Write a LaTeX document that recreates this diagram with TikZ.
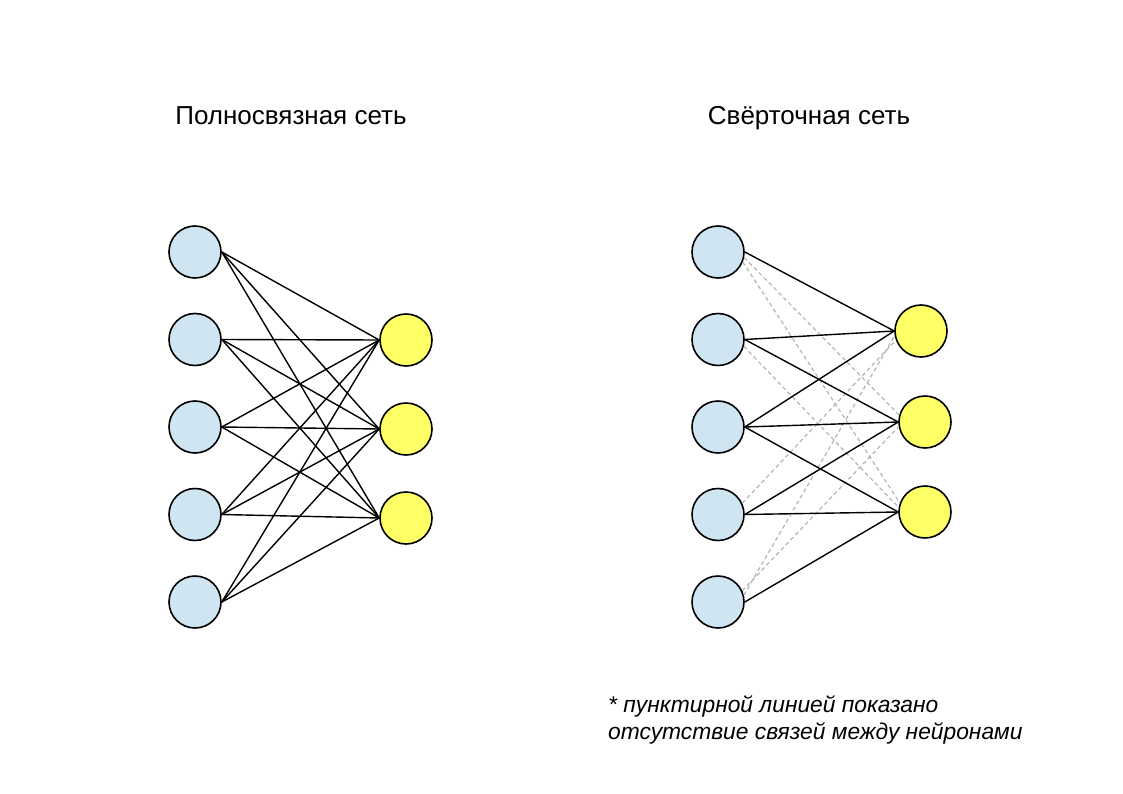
\documentclass[tikz,border=0pt]{standalone}
\usepackage{fontspec}
\setmainfont{Liberation Sans}
\usetikzlibrary{arrows}
\definecolor{inblue}{HTML}{CFE5F2}
\definecolor{outyellow}{HTML}{FFFF66}
\definecolor{gapgray}{HTML}{B4B4B4}

\begin{document}
\begin{tikzpicture}[x=1pt,y=-1pt]
\tikzstyle{every node}=[minimum width=0pt, inner sep=0pt, circle]
\tikzstyle{inp}=[draw, line width=1.6pt, minimum size=52pt, fill=inblue]
\tikzstyle{outp}=[draw, line width=1.6pt, minimum size=52pt, fill=outyellow]
\tikzstyle{link}=[line width=1.4pt]
\tikzstyle{gap}=[line width=1.2pt, gapgray, dash pattern=on 4pt off 3pt]
\useasboundingbox (0,0) rectangle (1123,794);
% titles
\node (t1) [rectangle, anchor=base, font=\fontsize{26}{31}\selectfont] at (291,125) {Полносвязная сеть};
\node (t2) [rectangle, anchor=base, font=\fontsize{26}{31}\selectfont] at (809,125) {Свёрточная сеть};
% fully connected
\draw (195,252) node (a1) [inp] {};
\draw (195,339.5) node (a2) [inp] {};
\draw (195,427) node (a3) [inp] {};
\draw (195,514.5) node (a4) [inp] {};
\draw (195,602) node (a5) [inp] {};
\draw (406,340) node (b1) [outp] {};
\draw (406,429) node (b2) [outp] {};
\draw (406,518) node (b3) [outp] {};
\draw[link] (a1.east) -- (b1.west);
\draw[link] (a1.east) -- (b2.west);
\draw[link] (a1.east) -- (b3.west);
\draw[link] (a2.east) -- (b1.west);
\draw[link] (a2.east) -- (b2.west);
\draw[link] (a2.east) -- (b3.west);
\draw[link] (a3.east) -- (b1.west);
\draw[link] (a3.east) -- (b2.west);
\draw[link] (a3.east) -- (b3.west);
\draw[link] (a4.east) -- (b1.west);
\draw[link] (a4.east) -- (b2.west);
\draw[link] (a4.east) -- (b3.west);
\draw[link] (a5.east) -- (b1.west);
\draw[link] (a5.east) -- (b2.west);
\draw[link] (a5.east) -- (b3.west);
% convolutional
\draw (718,252) node (c1) [inp] {};
\draw (718,339.5) node (c2) [inp] {};
\draw (718,427) node (c3) [inp] {};
\draw (718,514.5) node (c4) [inp] {};
\draw (718,602) node (c5) [inp] {};
\draw (921,331) node (d1) [outp] {};
\draw (925,422) node (d2) [outp] {};
\draw (925,512) node (d3) [outp] {};
\draw[gap] (c1.-12) -- (d2.165);
\draw[gap] (c1.-22) -- (d3.160);
\draw[gap] (c2.-15) -- (d3.170);
\draw[gap] (c4.25) -- (d1.-160);
\draw[gap] (c5.15) -- (d1.-170);
\draw[gap] (c5.25) -- (d2.-170);
\draw[link] (c1.east) -- (d1.west);
\draw[link] (c2.east) -- (d1.west);
\draw[link] (c3.east) -- (d1.west);
\draw[link] (c2.east) -- (d2.west);
\draw[link] (c3.east) -- (d2.west);
\draw[link] (c4.east) -- (d2.west);
\draw[link] (c3.east) -- (d3.west);
\draw[link] (c4.east) -- (d3.west);
\draw[link] (c5.east) -- (d3.west);
% note
\node (note) [rectangle, anchor=base west, align=left, font=\fontsize{22.8}{27}\selectfont\itshape] at (608,739) {* пунктирной линией показано\\отсутствие связей между нейронами};
\end{tikzpicture}
\end{document}
